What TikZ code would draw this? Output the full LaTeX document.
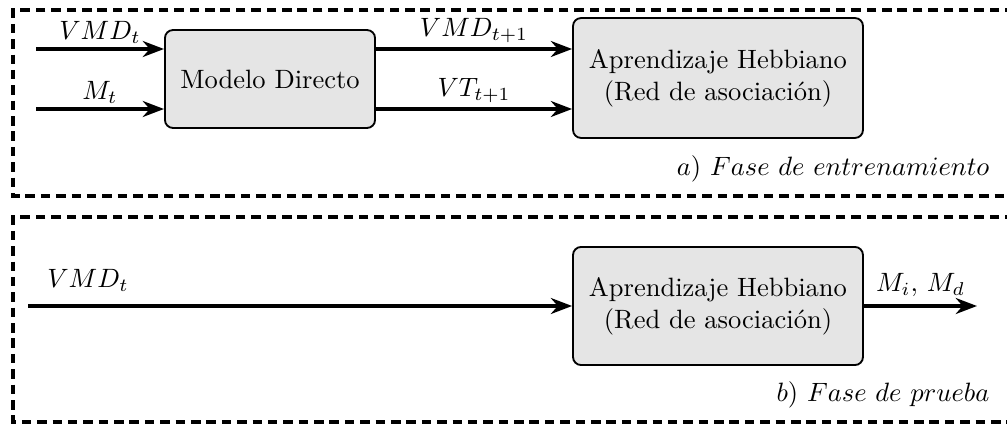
\documentclass[tikz,border=0pt]{standalone}
\usetikzlibrary{arrows.meta}
\begin{document}
\begin{tikzpicture}[x=0.377pt, y=-0.377pt,
  blockbox/.style={draw, line width=0.7pt, rounded corners=3pt, fill=black!10, align=center, inner sep=0pt},
  conn/.style={line width=1.5pt, -{Stealth[length=8pt,width=6pt]}},
  frame/.style={line width=1.3pt, dash pattern=on 3.6pt off 2.2pt},
  lab/.style={above, inner sep=1.5pt}]
\useasboundingbox (0,0) rectangle (1007,424);
\begin{scope}
\clip (0,0) rectangle (1007,424);
\draw[frame] (1030,10) -- (13,10) -- (13,196) -- (1030,196);
\draw[frame] (1030,217) -- (13,217) -- (13,422) -- (1030,422);
\end{scope}
% top phase
\node[blockbox, minimum width=79.2pt, minimum height=36.9pt] (md) at (270,79) {Modelo Directo};
\node[blockbox, minimum width=109.3pt, minimum height=45.2pt] (hb1) at (718,78) {Aprendizaje Hebbiano\\(Red de asociación)};
\coordinate (in1) at (36,49);
\coordinate (in2) at (36,109);
\draw[conn] (in1) -- (md.west |- in1) node[lab, midway] {$VMD_t$};
\draw[conn] (in2) -- (md.west |- in2) node[lab, midway] {$M_t$};
\draw[conn] (md.east |- in1) -- (hb1.west |- in1) node[lab, midway] {$VMD_{t+1}$};
\draw[conn] (md.east |- in2) -- (hb1.west |- in2) node[lab, midway] {$VT_{t+1}$};
\node[anchor=east, inner sep=0pt] (la) at (990,169) {$a)\ Fase\ de\ entrenamiento$};
% bottom phase
\node[blockbox, minimum width=109.3pt, minimum height=44.5pt] (hb2) at (718,306) {Aprendizaje Hebbiano\\(Red de asociación)};
\coordinate (in3) at (28,306);
\coordinate (out) at (977,306);
\draw[conn] (in3) -- (hb2.west);
\node[lab] (lv) at (88,296) {$VMD_t$};
\draw[conn] (hb2.east) -- (out) node[lab, midway, inner sep=2.8pt] {$M_i,\, M_d$};
\node[anchor=east, inner sep=0pt] (lb) at (990,395) {$b)\ Fase\ de\ prueba$};
\end{tikzpicture}
\end{document}
